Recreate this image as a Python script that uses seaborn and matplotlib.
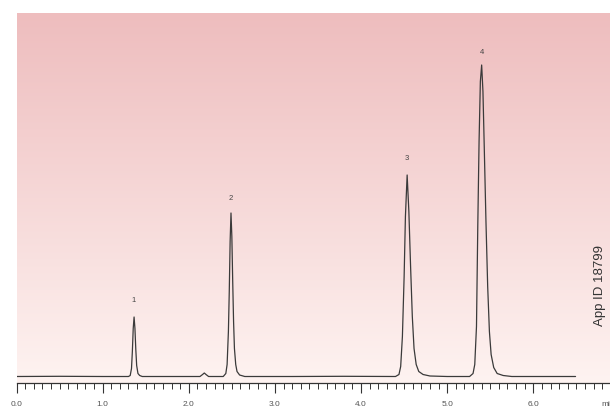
import matplotlib
matplotlib.use("Agg")
import matplotlib.pyplot as plt
from matplotlib.ticker import MultipleLocator
import seaborn as sns
import pandas as pd
import numpy as np

# chromatogram trace (time in min, detector signal)
time_min = [0.00, 0.50, 1.00, 1.30, 1.32, 1.335, 1.345, 1.355, 1.365, 1.375, 1.385,
            1.395, 1.41, 1.43, 1.46, 1.80, 2.13, 2.16, 2.18, 2.20, 2.23, 2.40,
            2.43, 2.445, 2.46, 2.47, 2.48, 2.49, 2.50, 2.51, 2.52, 2.53, 2.545,
            2.56, 2.59, 2.65, 3.20, 3.80, 4.40, 4.44, 4.46, 4.48, 4.50, 4.515,
            4.535, 4.555, 4.575, 4.595, 4.615, 4.64, 4.67, 4.72, 4.80, 5.00,
            5.26, 5.30, 5.32, 5.34, 5.355, 5.37, 5.385, 5.40, 5.415, 5.43,
            5.45, 5.47, 5.49, 5.51, 5.54, 5.58, 5.65, 5.75, 6.10, 6.49]
signal = [6.0, 6.2, 6.0, 6.0, 7.0, 14.0, 31.0, 54.0, 65.5, 54.0, 33.0,
          17.0, 9.0, 7.0, 6.0, 6.0, 6.0, 8.0, 9.5, 8.0, 6.0, 6.0,
          9.0, 18.0, 51.0, 91.0, 141.0, 169.5, 146.0, 101.0, 61.0, 34.0, 18.0,
          11.0, 7.5, 6.0, 6.0, 6.2, 6.0, 8.0, 16.0, 46.0, 106.0, 166.0,
          207.5, 171.0, 116.0, 66.0, 34.0, 18.0, 11.0, 8.0, 6.5, 6.0,
          6.0, 9.0, 18.0, 56.0, 156.0, 241.0, 301.0, 317.5, 291.0, 236.0,
          161.0, 96.0, 51.0, 28.0, 15.0, 9.0, 7.0, 6.0, 6.0, 6.0]

peak_names = ["1", "2", "3", "4"]
peak_times = [1.365, 2.49, 4.535, 5.40]
peak_label_y = [82.0, 184.0, 224.0, 330.5]

x_max = 6.89
y_max = 369.5

trace = pd.DataFrame({"time": time_min, "signal": signal})

sns.set_theme(style="white")
plt.rcParams["font.family"] = ["Liberation Sans", "DejaVu Sans"]

fig = plt.figure(figsize=(6.1, 4.09), dpi=100)
ax = fig.add_axes([16.5 / 610, (409 - 382.5) / 409, 1 - 16.5 / 610, (382.5 - 13) / 409])

# pink to white vertical gradient behind the trace
top = np.array([238, 189, 190]) / 255
bottom = np.array([254, 243, 241]) / 255
frac = np.linspace(0, 1, 256)[:, None]
grad = (top * (1 - frac) + bottom * frac)[:, None, :]
ax.imshow(grad, extent=[0, x_max, 0, y_max], aspect="auto", zorder=0)

sns.lineplot(data=trace, x="time", y="signal", ax=ax, color="#3a3a3a",
             linewidth=0.9, estimator=None, zorder=2)

for name, t, y in zip(peak_names, peak_times, peak_label_y):
    ax.text(t, y, name, ha="center", va="center", fontsize=5.5, color="#444444")

ax.set_xlim(0, x_max)
ax.set_ylim(0, y_max)
ax.set_xlabel("")
ax.set_ylabel("")
ax.set_yticks([])
ax.xaxis.set_major_locator(MultipleLocator(1.0))
ax.xaxis.set_minor_locator(MultipleLocator(0.1))
ax.set_xticks([0, 1, 2, 3, 4, 5, 6])
ax.set_xticklabels(["0.0", "1.0", "2.0", "3.0", "4.0", "5.0", "6.0"])
ax.tick_params(axis="x", which="major", direction="out", length=7.5, width=0.8,
               color="#333333", labelsize=6, labelcolor="#555555", pad=6, bottom=True)
ax.tick_params(axis="x", which="minor", direction="out", length=4, width=0.7,
               color="#333333", bottom=True)
for side in ["top", "right", "left"]:
    ax.spines[side].set_visible(False)
ax.spines["bottom"].set_color("#333333")
ax.spines["bottom"].set_linewidth(0.9)

fig.text(601 / 610, (409 - 405) / 409, "min", ha="left", va="center",
         fontsize=6, color="#555555")
fig.text(600 / 610, (409 - 285) / 409, "App ID 18799", rotation=90,
         ha="center", va="center", fontsize=9.5, color="#333333")

fig.savefig("out.png", dpi=100)
